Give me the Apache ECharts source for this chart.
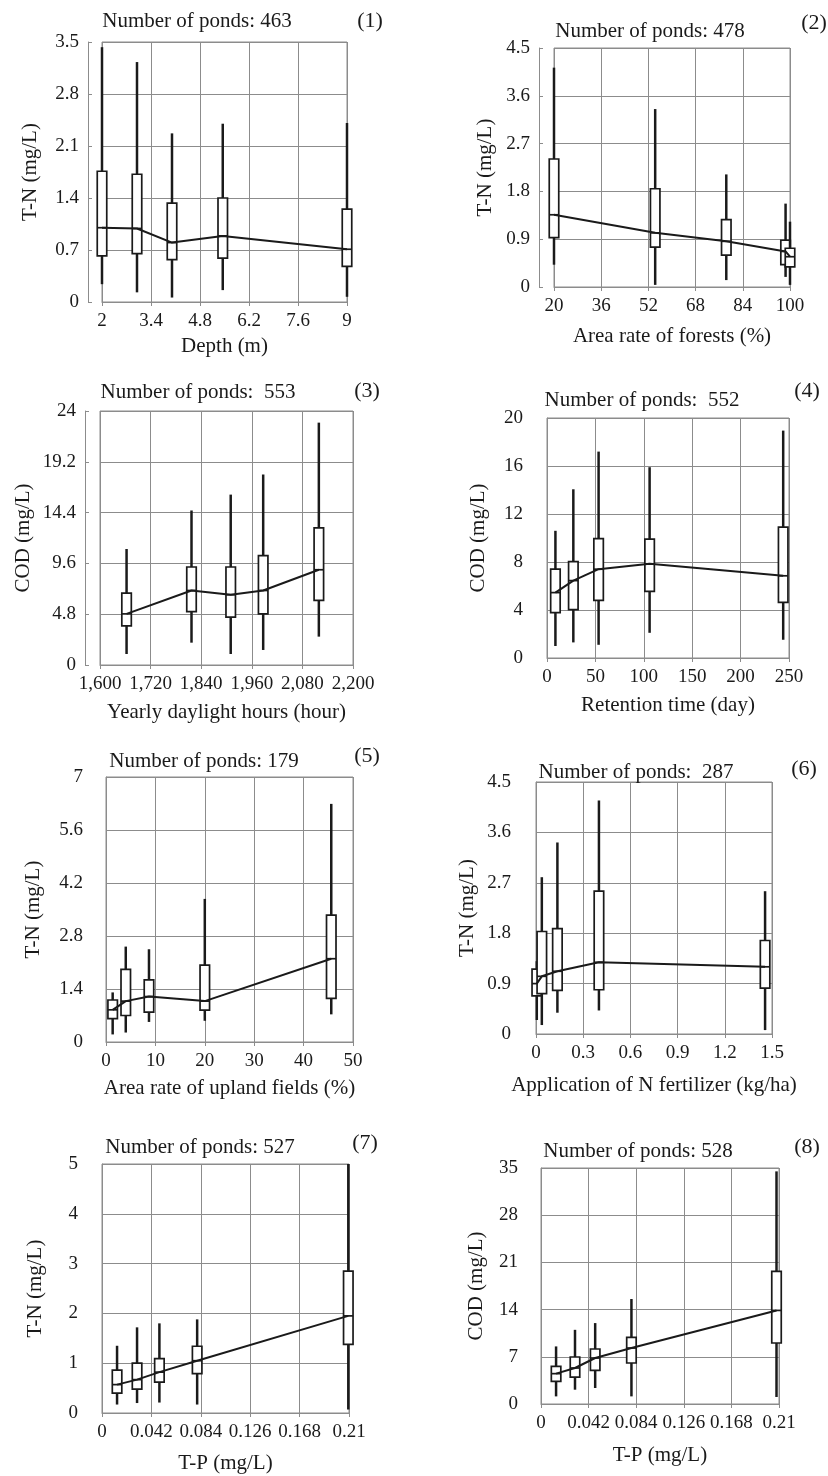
<!DOCTYPE html>
<html>
<head>
<meta charset="utf-8">
<script src="https://cdn.jsdelivr.net/npm/echarts@6.0.0/dist/echarts.min.js"></script>
<style>
  html, body { margin: 0; padding: 0; background: #fff; }
  #chart { width: 828px; height: 1476px; }
</style>
</head>
<body>
<div id="chart"></div>
<script>
// box rows: [x, whisker low, Q1, median, Q3, whisker high]
const depthBoxes = [
  [2, 0.24, 0.62, 1.0, 1.76, 3.43],
  [3, 0.13, 0.65, 0.99, 1.72, 3.23],
  [4, 0.06, 0.57, 0.80, 1.33, 2.27],
  [5.45, 0.16, 0.59, 0.89, 1.40, 2.40],
  [9, 0.07, 0.48, 0.71, 1.25, 2.41]
];
const forestBoxes = [
  [20, 0.42, 0.93, 1.36, 2.41, 4.13],
  [54.3, 0.04, 0.75, 1.02, 1.85, 3.35],
  [78.4, 0.13, 0.60, 0.86, 1.27, 2.12],
  [98.5, 0.19, 0.42, 0.67, 0.88, 1.57],
  [100, 0.04, 0.38, 0.57, 0.73, 1.23]
];
const daylightBoxes = [
  [1663, 1.04, 3.7, 4.83, 6.8, 10.96],
  [1817, 2.11, 5.05, 7.04, 9.26, 14.6],
  [1910, 1.04, 4.52, 6.64, 9.26, 16.1],
  [1987, 1.42, 4.83, 7.04, 10.33, 18.0],
  [2119, 2.68, 6.1, 9.0, 12.96, 22.9]
];
const retentionBoxes = [
  [8.7, 1.0, 3.78, 5.45, 7.4, 10.6],
  [27.2, 1.3, 4.03, 6.45, 8.03, 14.06],
  [53.3, 1.1, 4.8, 7.4, 9.94, 17.2],
  [106, 2.1, 5.55, 7.85, 9.9, 15.9],
  [244, 1.52, 4.63, 6.85, 10.9, 18.95]
];
const uplandBoxes = [
  [1.35, 0.2, 0.62, 0.85, 1.11, 1.31],
  [4, 0.25, 0.7, 1.08, 1.92, 2.52],
  [8.7, 0.53, 0.79, 1.2, 1.64, 2.45],
  [20, 0.56, 0.84, 1.08, 2.03, 3.78],
  [45.6, 0.73, 1.15, 2.2, 3.35, 6.29]
];
const fertBoxes = [
  [0.005, 0.25, 0.68, 0.9, 1.16, 1.3],
  [0.037, 0.16, 0.72, 1.03, 1.83, 2.8],
  [0.136, 0.38, 0.78, 1.12, 1.88, 3.42],
  [0.40, 0.42, 0.79, 1.28, 2.55, 4.17],
  [1.456, 0.07, 0.82, 1.2, 1.67, 2.55]
];
const tpTnBoxes = [
  [0.0128, 0.17, 0.4, 0.57, 0.86, 1.35],
  [0.0298, 0.2, 0.48, 0.67, 1.0, 1.72],
  [0.0488, 0.21, 0.62, 0.82, 1.09, 1.8],
  [0.0809, 0.17, 0.79, 1.05, 1.34, 1.88],
  [0.2094, 0.07, 1.38, 1.95, 2.85, 5.0]
];
const tpCodBoxes = [
  [0.0133, 1.13, 3.36, 4.5, 5.58, 8.54],
  [0.030, 2.12, 4.0, 5.34, 6.97, 11.0],
  [0.0478, 2.37, 4.98, 6.82, 8.16, 12.0],
  [0.0798, 1.13, 6.08, 8.3, 9.88, 15.57],
  [0.2078, 1.04, 9.05, 13.88, 19.67, 34.5]
];

const xTicks = [
  [2, 3.4, 4.8, 6.2, 7.6, 9],
  [20, 36, 52, 68, 84, 100],
  [1600, 1720, 1840, 1960, 2080, 2200],
  [0, 50, 100, 150, 200, 250],
  [0, 10, 20, 30, 40, 50],
  [0, 0.3, 0.6, 0.9, 1.2, 1.5],
  [0, 0.042, 0.084, 0.126, 0.168, 0.21],
  [0, 0.042, 0.084, 0.126, 0.168, 0.21]
];
const yTicks = [
  [0, 0.7, 1.4, 2.1, 2.8, 3.5],
  [0, 0.9, 1.8, 2.7, 3.6, 4.5],
  [0, 4.8, 9.6, 14.4, 19.2, 24],
  [0, 4, 8, 12, 16, 20],
  [0, 1.4, 2.8, 4.2, 5.6, 7],
  [0, 0.9, 1.8, 2.7, 3.6, 4.5],
  [0, 1, 2, 3, 4, 5],
  [0, 7, 14, 21, 28, 35]
];
const pondCounts = ['463', '478', ' 553', ' 552', '179', ' 287', '527', '528'];
const xNames = [
  'Depth (m)',
  'Area rate of forests (%)',
  'Yearly daylight hours (hour)',
  'Retention time (day)',
  'Area rate of upland fields (%)',
  'Application of N fertilizer (kg/ha)',
  'T-P (mg/L)',
  'T-P (mg/L)'
];
const yNames = ['T-N (mg/L)', 'T-N (mg/L)', 'COD (mg/L)', 'COD (mg/L)', 'T-N (mg/L)', 'T-N (mg/L)', 'T-N (mg/L)', 'COD (mg/L)'];
const allBoxes = [depthBoxes, forestBoxes, daylightBoxes, retentionBoxes, uplandBoxes, fertBoxes, tpTnBoxes, tpCodBoxes];

// layout
const grids = [
  { left: 102, top: 42, width: 245, height: 260 },
  { left: 554, top: 48, width: 236, height: 239 },
  { left: 100, top: 411, width: 253, height: 254 },
  { left: 547, top: 418, width: 242, height: 240 },
  { left: 106, top: 777, width: 247, height: 265 },
  { left: 536, top: 782, width: 236, height: 252 },
  { left: 102, top: 1164, width: 247, height: 249 },
  { left: 541, top: 1168, width: 238, height: 236 }
];
const yOffsets = [14, 15, 15, 15, 14, 16, 15, 14];
const yNameGaps = [47, 43, 51, 43, 48, 42, 41, 40];
const xNameGaps = [34, 39, 37, 37, 36, 41, 40, 41];
const titlePos = [[197, 22], [650, 32], [198, 393], [642, 401], [204, 762], [636, 773], [200, 1148], [638, 1152]];
const tagPos = [[370, 22], [814, 24], [367, 392], [807, 392], [367, 757], [804, 770], [365, 1144], [807, 1148]];

const FONT = '"Liberation Serif", "DejaVu Serif", serif';
const INK = '#1a1a1a';
const GRIDLINE = '#8c8c8c';

const fmtTick = v => Math.abs(v) >= 1000 ? v.toLocaleString('en-US') : String(+(+v).toFixed(4));

function renderBox(params, api) {
  const x = api.value(0);
  const lo = api.coord([x, api.value(1)]);
  const q1 = api.coord([x, api.value(2)]);
  const md = api.coord([x, api.value(3)]);
  const q3 = api.coord([x, api.value(4)]);
  const hi = api.coord([x, api.value(5)]);
  const w = 9.5;
  return {
    type: 'group',
    children: [
      { type: 'line', shape: { x1: lo[0], y1: lo[1], x2: hi[0], y2: hi[1] }, style: { stroke: INK, lineWidth: 2.5 } },
      { type: 'rect', shape: { x: q3[0] - w / 2, y: q3[1], width: w, height: q1[1] - q3[1] }, style: { fill: '#fff', stroke: INK, lineWidth: 1.7 } },
      { type: 'line', shape: { x1: md[0] - w / 2, y1: md[1], x2: md[0] + w / 2, y2: md[1] }, style: { stroke: INK, lineWidth: 1.7 } }
    ]
  };
}

const titles = [];
const gridOpts = [];
const xAxes = [];
const yAxes = [];
const series = [];

allBoxes.forEach((boxes, i) => {
  titles.push({
    text: 'Number of ponds: ' + pondCounts[i],
    left: titlePos[i][0], top: titlePos[i][1] - 11, textAlign: 'center', padding: 0,
    textStyle: { fontFamily: FONT, fontSize: 21, fontWeight: 'normal', color: INK }
  });
  titles.push({
    text: '(' + (i + 1) + ')',
    left: tagPos[i][0], top: tagPos[i][1] - 12, textAlign: 'center', padding: 0,
    textStyle: { fontFamily: FONT, fontSize: 22, fontWeight: 'normal', color: INK }
  });

  gridOpts.push(Object.assign({ show: true, borderColor: GRIDLINE, borderWidth: 1, containLabel: false, outerBoundsMode: 'none' }, grids[i]));

  const xt = xTicks[i];
  xAxes.push({
    gridIndex: i, type: 'value',
    min: xt[0], max: xt[xt.length - 1],
    name: xNames[i], nameLocation: 'middle', nameGap: xNameGaps[i],
    nameTextStyle: { fontFamily: FONT, fontSize: 21, color: INK },
    axisLine: { show: true, onZero: false, lineStyle: { color: GRIDLINE, width: 1 } },
    axisTick: { show: true, length: 4, customValues: xt, lineStyle: { color: GRIDLINE } },
    axisLabel: { customValues: xt, formatter: fmtTick, fontFamily: FONT, fontSize: 19, color: INK, margin: 10 },
    splitLine: { show: true, lineStyle: { color: GRIDLINE, width: 1 } }
  });

  const yt = yTicks[i];
  yAxes.push({
    gridIndex: i, type: 'value',
    min: 0, max: yt[yt.length - 1], interval: yt[1] - yt[0],
    offset: yOffsets[i],
    name: yNames[i], nameLocation: 'middle', nameGap: yNameGaps[i],
    nameTextStyle: { fontFamily: FONT, fontSize: 21, color: INK },
    axisLine: { show: true, lineStyle: { color: GRIDLINE, width: 1 } },
    axisTick: { show: true, inside: true, length: 4, lineStyle: { color: GRIDLINE } },
    axisLabel: { formatter: fmtTick, fontFamily: FONT, fontSize: 19, color: INK, margin: 9 },
    splitLine: { show: true, lineStyle: { color: GRIDLINE, width: 1 } }
  });

  series.push({
    type: 'custom', xAxisIndex: i, yAxisIndex: i,
    renderItem: renderBox,
    encode: { x: 0, y: [1, 2, 3, 4, 5] },
    data: boxes,
    silent: true, z: 2
  });
  series.push({
    type: 'line', xAxisIndex: i, yAxisIndex: i,
    data: boxes.map(b => [b[0], b[3]]),
    symbol: 'none', silent: true, z: 3,
    lineStyle: { color: INK, width: 2 }
  });
});

const chart = echarts.init(document.getElementById('chart'), null, { renderer: 'canvas' });
chart.setOption({
  backgroundColor: '#fff',
  animation: false,
  title: titles,
  grid: gridOpts,
  xAxis: xAxes,
  yAxis: yAxes,
  series: series
});
</script>
</body>
</html>
